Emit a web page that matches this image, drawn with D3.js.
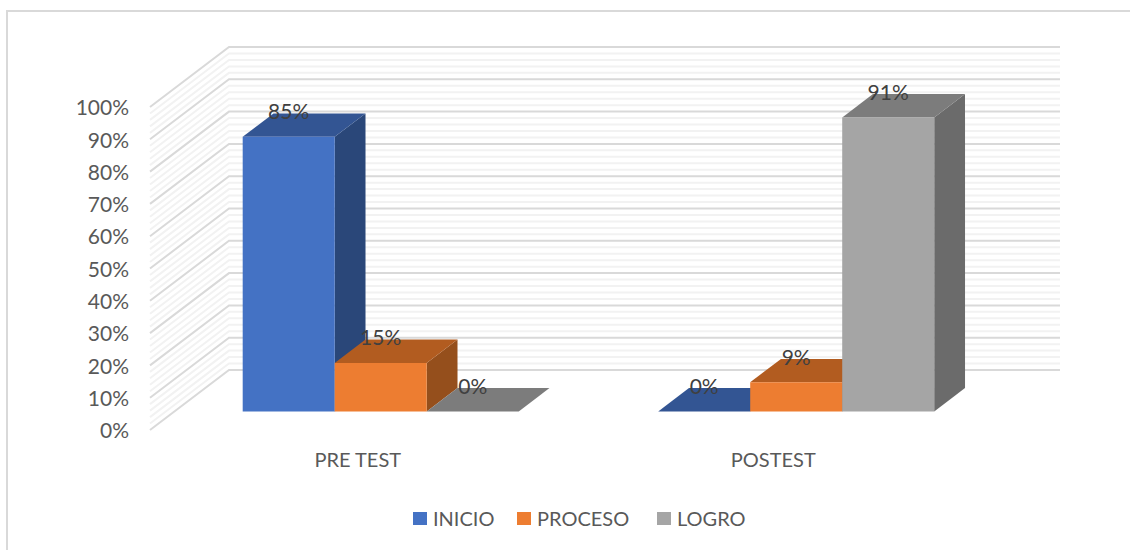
<!DOCTYPE html>
<html>
<head>
<meta charset="utf-8">
<script src="https://d3js.org/d3.v7.min.js"></script>
<style>
    html, body { margin: 0; padding: 0; background: #fff; }
    svg { display: block; }
    text { font-family: Lato, "Open Sans", sans-serif; }
    .domain { display: none; }
</style>
</head>
<body>
<div id="space"></div>
<script>
var categories = ["PRE TEST", "POSTEST"];
var seriesNames = ["INICIO", "PROCESO", "LOGRO"];
var inicioValues = [0.85, 0];
var procesoValues = [0.15, 0.09];
var logroValues = [0, 0.91];
var seriesValues = [inicioValues, procesoValues, logroValues];
var tickValues = [0, 0.1, 0.2, 0.3, 0.4, 0.5, 0.6, 0.7, 0.8, 0.9, 1];
var minorTicks = d3.range(0, 51).map(function (i) { return i / 50; });

var faceFront = ["#4472c4", "#ed7d31", "#a5a5a5"];
var faceTop = ["#335593", "#b25c20", "#7c7c7c"];
var faceSide = ["#2a4779", "#954f1c", "#6b6b6b"];
var legendX = [413, 517, 657];

var svg = d3.select("#space").append("svg")
    .attr("width", 1130)
    .attr("height", 550);

//Chart frame, cropped at the right and the bottom
svg.append("path")
    .attr("d", "M7,550V11H1130")
    .attr("fill", "none")
    .attr("stroke", "#d9d9d9")
    .attr("stroke-width", 2);

var y = d3.scaleLinear().domain([0, 1]).range([430, 107]);
var x = d3.scaleBand().domain(categories).range([150, 981]);
var xSeries = d3.scaleBand().domain(seriesNames)
    .range([0, x.bandwidth()])
    .paddingInner(0)
    .paddingOuter(0.758)
    .align(0.489);

//Depth of the floor: t = 0 is the front edge, t = 1 the back wall
var depthX = 79, depthY = 60;
var barFront = 0.31, barBack = 0.7;

function project(px, v, t) {
    return [px + t * depthX, y(v) - t * depthY];
}

function poly(points) {
    return points.map(function (p) { return p.join(","); }).join(" ");
}

/************************************************
				Walls
*************************************************/
var grid = svg.append("g");

function isMajor(v) {
    return Math.round(v * 50) % 5 == 0;
}

//Minor lines first, major ones stay on top
var gridTicks = minorTicks.slice().sort(function (a, b) { return isMajor(a) - isMajor(b); });

gridTicks.forEach(function (v) {
    var a = project(150, v, 0), b = project(150, v, 1), c = project(981, v, 1);
    grid.append("polyline")
        .attr("points", poly([a, b, c]))
        .attr("fill", "none")
        .attr("stroke", isMajor(v) ? "#d9d9d9" : "#f2f2f2")
        .attr("stroke-width", 2);
});

/************************************************
				Bars
*************************************************/
var bars = svg.append("g");

categories.forEach(function (cat, c) {
    seriesNames.forEach(function (name, s) {
        var val = seriesValues[s][c];
        var x0 = x(cat) + xSeries(name);
        var x1 = x0 + xSeries.bandwidth();

        var fl = project(x0, 0, barFront), fr = project(x1, 0, barFront), br = project(x1, 0, barBack);
        var tl = project(x0, val, barFront), tr = project(x1, val, barFront);
        var bl2 = project(x0, val, barBack), br2 = project(x1, val, barBack);

        if (val > 0) {
            bars.append("polygon").attr("points", poly([fr, br, br2, tr])).attr("fill", faceSide[s]);
        }
        bars.append("polygon").attr("points", poly([tl, bl2, br2, tr])).attr("fill", faceTop[s]);
        if (val > 0) {
            bars.append("polygon").attr("points", poly([fl, fr, tr, tl])).attr("fill", faceFront[s]);
        }
    });
});

//Data labels are drawn after all the bars
categories.forEach(function (cat, c) {
    seriesNames.forEach(function (name, s) {
        var val = seriesValues[s][c];
        var p = project(x(cat) + xSeries(name) + xSeries.bandwidth() / 2, val, barFront);
        svg.append("text")
            .attr("x", p[0])
            .attr("y", p[1] - 25)
            .attr("dy", "0.35em")
            .attr("text-anchor", "middle")
            .attr("font-size", 21)
            .attr("fill", "#404040")
            .text(d3.format(".0%")(val));
    });
});

/************************************************
				Axes
*************************************************/
var yAxis = svg.append("g")
    .attr("transform", "translate(129,1)")
    .call(d3.axisLeft(y).tickValues(tickValues).tickSize(0).tickPadding(0).tickFormat(d3.format(".0%")));
yAxis.selectAll("text").attr("font-size", 21).attr("fill", "#595959");

var xAxis = svg.append("g")
    .attr("transform", "translate(0,453)")
    .call(d3.axisBottom(x).tickSize(0).tickPadding(0));
xAxis.selectAll("text").attr("font-size", 20).attr("fill", "#595959");

/************************************************
				Legend
*************************************************/
var legend = svg.append("g");

seriesNames.forEach(function (name, s) {
    legend.append("rect")
        .attr("x", legendX[s])
        .attr("y", 512)
        .attr("width", 14)
        .attr("height", 13)
        .attr("fill", faceFront[s]);
    legend.append("text")
        .attr("x", legendX[s] + 20)
        .attr("y", 519)
        .attr("dy", "0.35em")
        .attr("font-size", 20)
        .attr("fill", "#595959")
        .text(name);
});
</script>
</body>
</html>
